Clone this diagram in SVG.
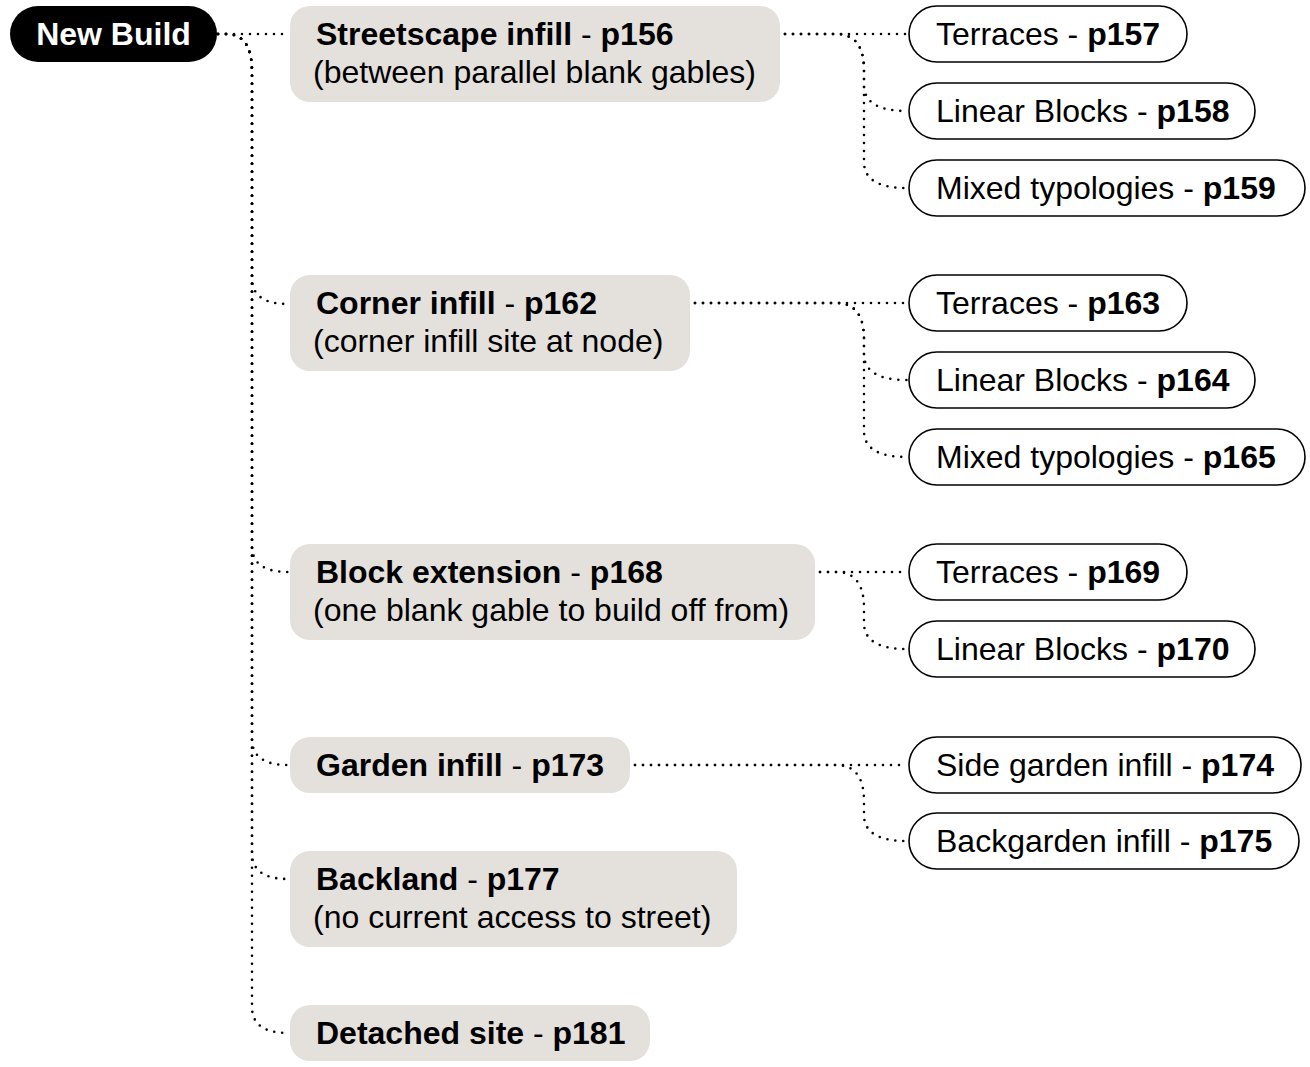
<svg xmlns="http://www.w3.org/2000/svg" width="1310" height="1067" viewBox="0 0 1310 1067">
<style>
text{font-family:"Liberation Sans",Arial,sans-serif;font-size:32px;fill:#000}
.b{font-weight:bold}
.root rect{fill:#000}
.root text{fill:#fff}
.cat rect{fill:#e4e1dd}
.leaf rect{fill:#fff;stroke:#000;stroke-width:1.6}
.conn path{fill:none;stroke:#000;stroke-width:2.6;stroke-dasharray:0 8;stroke-linecap:round}
</style>
<rect width="1310" height="1067" fill="#fff"/>
<g class="conn" id="connectors">
<path d="M218 34 H288"/>
<path d="M218 34 H226 Q252 34 252 72 V278 Q252 304 288 304"/>
<path d="M218 34 H226 Q252 34 252 72 V546 Q252 572 288 572"/>
<path d="M218 34 H226 Q252 34 252 72 V739 Q252 765 288 765"/>
<path d="M218 34 H226 Q252 34 252 72 V853 Q252 879 288 879"/>
<path d="M218 34 H226 Q252 34 252 72 V1007 Q252 1033 288 1033"/>
<path d="M785 34 H907"/>
<path d="M785 34 H836 Q864 34 864 70 V85 Q864 111 907 111"/>
<path d="M785 34 H836 Q864 34 864 70 V162 Q864 188 907 188"/>
<path d="M695 303 H907"/>
<path d="M695 303 H836 Q864 303 864 339 V354 Q864 380 907 380"/>
<path d="M695 303 H836 Q864 303 864 339 V431 Q864 457 907 457"/>
<path d="M820 572 H907"/>
<path d="M820 572 H836 Q864 572 864 608 V623 Q864 649 907 649"/>
<path d="M635 765 H907"/>
<path d="M635 765 H836 Q864 765 864 801 V815 Q864 841 907 841"/>
</g>
<g class="root" id="new-build"><rect x="10" y="6" width="207" height="56" rx="28"/><text x="113.5" y="45" text-anchor="middle" class="b">New Build</text></g>
<g class="cat" id="streetscape"><rect x="290" y="6" width="490" height="96" rx="20"/><text x="316" y="45"><tspan class="b">Streetscape infill</tspan> - <tspan class="b">p156</tspan></text><text x="313" y="83">(between parallel blank gables)</text></g>
<g class="cat" id="corner"><rect x="290" y="275" width="400" height="96" rx="20"/><text x="316" y="314"><tspan class="b">Corner infill</tspan> - <tspan class="b">p162</tspan></text><text x="313" y="352">(corner infill site at node)</text></g>
<g class="cat" id="block"><rect x="290" y="544" width="525" height="96" rx="20"/><text x="316" y="583"><tspan class="b">Block extension</tspan> - <tspan class="b">p168</tspan></text><text x="313" y="621">(one blank gable to build off from)</text></g>
<g class="cat" id="garden"><rect x="290" y="737" width="340" height="56" rx="20"/><text x="316" y="776"><tspan class="b">Garden infill</tspan> - <tspan class="b">p173</tspan></text></g>
<g class="cat" id="backland"><rect x="290" y="851" width="447" height="96" rx="20"/><text x="316" y="890"><tspan class="b">Backland</tspan> - <tspan class="b">p177</tspan></text><text x="313" y="928">(no current access to street)</text></g>
<g class="cat" id="detached"><rect x="290" y="1005" width="360" height="56" rx="20"/><text x="316" y="1044"><tspan class="b">Detached site</tspan> - <tspan class="b">p181</tspan></text></g>
<g class="leaf" id="terraces-157"><rect x="909" y="6" width="278" height="56" rx="28"/><text x="936" y="45">Terraces - <tspan class="b">p157</tspan></text></g>
<g class="leaf" id="linear-158"><rect x="909" y="83" width="346" height="56" rx="28"/><text x="936" y="122">Linear Blocks - <tspan class="b">p158</tspan></text></g>
<g class="leaf" id="mixed-159"><rect x="909" y="160" width="396" height="56" rx="28"/><text x="936" y="199">Mixed typologies - <tspan class="b">p159</tspan></text></g>
<g class="leaf" id="terraces-163"><rect x="909" y="275" width="278" height="56" rx="28"/><text x="936" y="314">Terraces - <tspan class="b">p163</tspan></text></g>
<g class="leaf" id="linear-164"><rect x="909" y="352" width="346" height="56" rx="28"/><text x="936" y="391">Linear Blocks - <tspan class="b">p164</tspan></text></g>
<g class="leaf" id="mixed-165"><rect x="909" y="429" width="396" height="56" rx="28"/><text x="936" y="468">Mixed typologies - <tspan class="b">p165</tspan></text></g>
<g class="leaf" id="terraces-169"><rect x="909" y="544" width="278" height="56" rx="28"/><text x="936" y="583">Terraces - <tspan class="b">p169</tspan></text></g>
<g class="leaf" id="linear-170"><rect x="909" y="621" width="346" height="56" rx="28"/><text x="936" y="660">Linear Blocks - <tspan class="b">p170</tspan></text></g>
<g class="leaf" id="side-174"><rect x="909" y="737" width="392" height="56" rx="28"/><text x="936" y="776">Side garden infill - <tspan class="b">p174</tspan></text></g>
<g class="leaf" id="back-175"><rect x="909" y="813" width="390" height="56" rx="28"/><text x="936" y="852">Backgarden infill - <tspan class="b">p175</tspan></text></g>
</svg>
